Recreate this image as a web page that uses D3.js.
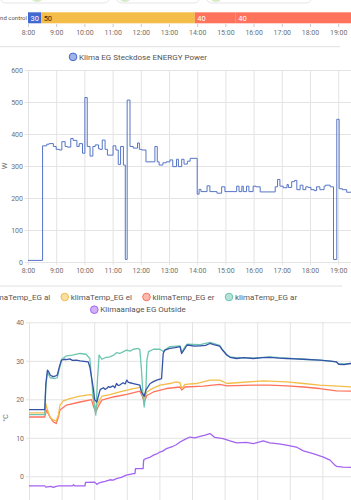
<!DOCTYPE html>
<html lang="en">
  <head>
    <script src="https://d3js.org/d3.v7.min.js"></script>
    <meta charset="UTF-8" />
    <title>Klima EG</title>
    <style>
      body { margin: 0; background: #fff; }
      svg text { font-family: Roboto, "Noto Sans", sans-serif; }
    </style>
  </head>
  <body>
    <svg width="351" height="500"></svg>
    <script>
      // ---- data ----
      var modeStarts = ["08:00", "08:28", "13:55", "15:22"];
      var modeValues = ["30", "50", "40", "40"];
      var modeColors = ["#4269d0", "#f4bd4a", "#ff725c", "#ff725c"];
      var timelineLabel = "nd control";

      var powerName = "Klima EG Steckdose ENERGY Power";
      var powerTimes = ["08:00","08:31","08:40","08:45","08:54","09:00","09:07","09:12","09:19","09:24","09:31","09:36","09:44","09:49","09:56","10:01","10:06","10:12","10:18","10:23","10:30","10:33","10:38","10:44","10:49","11:01","11:07","11:12","11:17","11:23","11:27","11:31","11:37","11:44","11:53","11:57","12:02","12:11","12:30","12:35","12:39","12:47","12:54","13:02","13:08","13:16","13:20","13:27","13:32","13:39","13:45","14:00","14:04","14:08","14:21","14:27","14:42","14:52","14:59","15:24","15:29","15:35","15:38","15:45","15:50","15:59","16:05","16:14","16:46","16:51","16:56","17:03","17:11","17:14","17:21","17:27","17:32","17:39","17:45","17:51","17:56","18:02","18:09","18:14","18:21","18:30","18:33","18:43","18:50","18:57","19:02","19:09","19:18","19:28"];
      var powerValues = [5,363,368,370,361,352,350,376,361,359,386,380,361,370,340,514,361,331,361,366,354,352,381,352,334,363,350,305,361,303,8,506,361,356,372,352,350,313,361,313,303,310,313,319,298,321,298,321,306,315,324,212,227,220,238,220,215,235,220,237,220,237,220,237,220,237,235,219,235,258,237,232,242,233,251,255,226,240,226,235,233,226,223,235,226,237,240,235,8,446,229,226,218,218];
      var powerTicks = [0, 100, 200, 300, 400, 500, 600];

      var tempTicks = [0, 10, 20, 30, 40];
      var tempNames = ["klimaTemp_EG al", "klimaTemp_EG el", "klimaTemp_EG er", "klimaTemp_EG ar", "Klimaanlage EG Outside"];
      var tempColors = ["#3553a8", "#f4bd4a", "#ff725c", "#6cc5b0", "#a463f2"];

      var tempAl = [["08:00",17.3],["08:29",17.3],["08:31",24.0],["08:34",27.6],["08:36",27.2],["08:39",26.3],["08:44",25.9],["08:48",26.0],["08:52",26.3],["08:56",28.5],["09:00",30.2],["09:05",30.4],["09:09",30.3],["09:15",30.5],["09:20",30.1],["09:27",30.2],["09:34",30.0],["09:45",29.8],["09:49",29.7],["09:52",28.4],["09:58",23.2],["10:01",19.8],["10:05",19.3],["10:08",21.0],["10:11",22.5],["10:17",23.0],["10:20",22.6],["10:23",22.8],["10:26",23.3],["10:29",23.1],["10:35",23.5],["10:38",23.0],["10:41",24.1],["10:44",23.6],["10:47",23.7],["10:53",24.3],["10:57",24.0],["11:00",25.0],["11:03",24.4],["11:06",24.3],["11:12",24.1],["11:18",23.9],["11:24",23.7],["11:27",21.9],["11:32",20.8],["11:35",22.4],["11:43",24.1],["11:49",24.6],["11:55",25.0],["12:04",25.4],["12:07",31.9],["12:10",32.8],["12:19",33.2],["12:29",33.4],["12:38",33.7],["12:41",31.9],["12:47",33.2],["12:51",34.1],["13:05",33.8],["13:15",33.9],["13:25",34.0],["13:33",34.5],["13:40",34.2],["13:51",33.8],["13:56",32.8],["14:04",31.5],["14:10",30.9],["14:22",30.6],["14:35",30.8],["14:53",30.6],["15:10",30.8],["15:23",30.9],["15:40",30.7],["15:54",30.6],["16:10",30.5],["16:25",30.4],["16:55",30.2],["17:15",29.9],["17:26",29.7],["17:30",29.1],["17:40",29.0],["17:51",29.3],["17:55",29.3]];
      var tempEl = [["08:00",16.5],["08:29",16.5],["08:31",18.9],["08:34",17.2],["08:39",15.3],["08:45",14.6],["08:50",14.4],["08:54",15.9],["08:57",18.5],["09:03",19.6],["09:15",20.2],["09:34",20.8],["09:52",21.2],["09:57",21.0],["09:59",19.3],["10:03",17.6],["10:08",19.3],["10:14",20.8],["10:29",21.2],["10:47",21.9],["11:12",22.8],["11:24",23.1],["11:28",21.9],["11:32",20.4],["11:37",21.9],["11:43",22.5],["12:01",23.7],["12:19",24.1],["12:31",24.5],["12:38",24.3],["12:41",22.8],["12:47",23.9],["13:08",24.1],["13:33",25.0],["13:51",25.0],["14:04",24.1],["14:22",24.3],["15:11",24.8],["15:54",24.5],["16:25",24.1],["16:55",23.7],["17:55",23.2]];
      var tempEr = [["08:00",15.4],["08:29",15.4],["08:32",17.2],["08:39",15.3],["08:45",14.1],["08:50",13.7],["08:54",15.3],["08:57",17.2],["09:09",18.5],["09:34",19.3],["09:55",19.9],["09:59",18.0],["10:03",16.7],["10:08",18.3],["10:14",19.8],["10:35",20.6],["11:00",21.3],["11:24",22.1],["11:28",21.0],["11:32",19.3],["11:37",21.0],["11:49",21.9],["12:13",22.8],["12:38",23.2],["12:41",22.4],["12:47",23.2],["13:21",23.4],["13:51",23.9],["14:04",23.5],["14:53",23.7],["15:23",23.7],["15:54",23.5],["16:25",23.2],["16:55",22.8],["17:26",22.2],["17:55",22.1]];
      var tempAr = [["08:00",16.0],["08:29",16.0],["08:31",23.5],["08:34",27.1],["08:39",25.6],["08:48",25.4],["08:52",25.6],["08:56",28.0],["09:00",30.4],["09:09",31.3],["09:20",31.5],["09:34",31.9],["09:45",31.7],["09:52",30.6],["09:58",20.6],["10:03",15.9],["10:06",25.0],["10:09",31.5],["10:14",30.4],["10:20",30.8],["10:29",31.0],["10:35",31.4],["10:41",32.1],["10:47",31.9],["10:53",32.3],["11:00",32.8],["11:06",32.5],["11:12",33.0],["11:21",33.2],["11:24",32.9],["11:27",27.6],["11:30",20.6],["11:32",18.0],["11:35",22.0],["11:37",30.2],["11:40",32.4],["11:49",33.0],["12:01",33.0],["12:07",32.4],["12:10",32.8],["12:19",33.7],["12:38",33.9],["12:41",32.2],["12:47",33.6],["12:51",34.3],["13:15",34.2],["13:33",34.8],["13:51",34.0],["13:56",32.9],["14:04",31.6],["14:10",31.0],["14:22",30.8],["14:53",30.7],["15:23",31.0],["15:54",30.7],["16:25",30.4],["16:55",30.2],["17:26",29.7],["17:30",29.2],["17:55",29.3]];
      var tempOut = [["08:00",-2.5],["08:29",-2.5],["08:31",-2.8],["08:40",-2.6],["08:45",-2.9],["08:50",-2.6],["08:55",-2.5],["09:20",-2.5],["09:22",-2.2],["09:24",-2.5],["09:43",-2.5],["09:44",-1.6],["10:01",-1.5],["10:05",-2.1],["10:08",-1.8],["10:14",-1.5],["10:20",-1.3],["10:29",-0.9],["10:35",-1.0],["10:41",-0.6],["10:50",-0.3],["10:59",0.3],["11:12",0.7],["11:15",0.7],["11:16",2.0],["11:30",2.0],["11:31",4.2],["11:35",4.6],["11:42",4.9],["11:49",5.5],["11:55",5.8],["12:01",6.3],["12:07",6.6],["12:13",7.2],["12:25",7.8],["12:31",8.2],["12:38",8.9],["12:47",9.6],["12:56",10.2],["13:05",10.0],["13:15",10.4],["13:24",10.7],["13:33",11.1],["13:36",10.8],["13:42",10.1],["13:57",9.8],["14:10",9.2],["14:22",8.7],["14:40",8.8],["14:53",8.5],["15:11",9.2],["15:23",8.7],["15:40",8.4],["15:54",8.1],["16:12",7.6],["16:25",6.6],["16:43",5.9],["17:02",5.0],["17:14",4.2],["17:23",2.9],["17:26",2.6],["17:38",2.4],["17:55",2.3]];
      var tempSeries = [tempAl, tempEl, tempEr, tempAr, tempOut];

      // ---- setup ----
      var svg = d3.select("svg");
      var parseT = d3.timeParse("%H:%M");
      var fmt = d3.timeFormat("%-H:%M");
      var grid = "#e3e3e3";
      var label = "#6f6f6f";

      // cut off cards at the very top
      var cards = [[0, 110, 37], [116, 200, 125], [206, 312, 216]];
      cards.forEach(function (c) {
        svg.append("rect").attr("x", c[0]).attr("y", -20).attr("width", c[1] - c[0])
          .attr("height", 23).attr("rx", 6).attr("fill", "#fff").attr("stroke", "#e6e6e6");
        svg.append("circle").attr("cx", c[2]).attr("cy", -5).attr("r", 7).attr("fill", "#d6ebc6");
      });

      // ---- timeline ----
      var x1 = d3.scaleTime().domain([parseT("08:00"), parseT("19:00")]).range([28, 338.2]);
      var endT = parseT("19:28");
      svg.append("text").attr("x", 27).attr("y", 20).attr("text-anchor", "end")
        .attr("font-size", "6px").attr("fill", "#555").text(timelineLabel);
      modeStarts.forEach(function (s, i) {
        var a = x1(parseT(s));
        var b = i < modeStarts.length - 1 ? x1(parseT(modeStarts[i + 1])) : x1(endT);
        svg.append("rect").attr("x", a).attr("y", 12.3).attr("width", b - a).attr("height", 11)
          .attr("fill", modeColors[i]);
        svg.append("text").attr("x", a + 2.5).attr("y", 20.5).attr("font-size", "7.5px")
          .attr("fill", i == 1 ? "#3a2a00" : "#fff").text(modeValues[i]);
      });
      var tAxis = svg.append("g").attr("transform", "translate(0,24)")
        .call(d3.axisBottom(x1).ticks(d3.timeHour.every(1)).tickFormat(fmt).tickSize(3).tickPadding(3));
      tAxis.select(".domain").remove();
      tAxis.selectAll("line").attr("stroke", "#ccc");
      tAxis.selectAll("text").attr("font-size", "7px").attr("fill", label).attr("font-family", "Roboto");

      svg.append("line").attr("x1", 0).attr("x2", 340).attr("y1", 46.7).attr("y2", 46.7).attr("stroke", "#e0e0e0");

      // ---- legend helper ----
      function legendRow(items, y, cx) {
        var g = svg.append("g");
        var cur = 0;
        items.forEach(function (it) {
          g.append("circle").attr("cx", cur + 4).attr("cy", y - 2.6).attr("r", 3.8)
            .attr("fill", it.color).attr("fill-opacity", 0.5).attr("stroke", it.color).attr("stroke-width", 1);
          var t = g.append("text").attr("x", cur + 10).attr("y", y).attr("font-size", "8px")
            .attr("fill", "#555").text(it.name);
          cur += 10 + t.node().getComputedTextLength() + 10.5;
        });
        cur -= 10.5;
        g.attr("transform", "translate(" + (cx - cur / 2) + ",0)");
      }

      // ---- power chart ----
      var x2 = d3.scaleTime().domain([parseT("08:00"), parseT("19:00")]).range([28, 338.2]);
      var y2 = d3.scaleLinear().domain([0, 600]).range([262, 70]);
      legendRow([{ name: powerName, color: "#4269d0" }], 59.5, 138);

      var gx2 = svg.append("g").attr("transform", "translate(0,262)")
        .call(d3.axisBottom(x2).ticks(d3.timeHour.every(1)).tickFormat(fmt).tickSize(-192).tickPadding(6));
      gx2.select(".domain").remove();
      gx2.selectAll("line").attr("stroke", grid).attr("y2", -192).attr("y1", 3);
      gx2.selectAll("text").attr("font-size", "7px").attr("fill", label);

      var gy2 = svg.append("g").attr("transform", "translate(28,0)")
        .call(d3.axisLeft(y2).tickValues(powerTicks).tickSize(-323).tickPadding(5));
      gy2.select(".domain").remove();
      gy2.selectAll("line").attr("stroke", grid).attr("x1", -3);
      gy2.selectAll("text").attr("font-size", "7px").attr("fill", label);

      svg.append("text").attr("transform", "translate(7,166) rotate(-90)").attr("text-anchor", "middle")
        .attr("font-size", "7.5px").attr("fill", label).text("W");

      var powerData = powerTimes.map(function (t, i) { return [parseT(t), powerValues[i]]; });
      svg.append("path").datum(powerData)
        .attr("fill", "none").attr("stroke", "#5575c6").attr("stroke-width", 1)
        .attr("d", d3.line().curve(d3.curveStepAfter)
          .x(function (d) { return x2(d[0]); }).y(function (d) { return y2(d[1]); }));

      svg.append("line").attr("x1", 0).attr("x2", 342).attr("y1", 286).attr("y2", 286).attr("stroke", "#e0e0e0");

      // ---- temperature chart (its time labels sit below the visible area) ----
      var x3 = d3.scaleTime().domain([parseT("08:00"), parseT("18:00")]).range([29, 355]);
      var y3 = d3.scaleLinear().domain([-10, 40]).range([514.8, 322.3]);
      legendRow(tempNames.slice(0, 4).map(function (n, i) { return { name: n, color: tempColors[i] }; }), 299.6, 138);
      legendRow([{ name: tempNames[4], color: tempColors[4] }], 312.3, 138);

      var gx3 = svg.append("g").attr("transform", "translate(0,514.8)")
        .call(d3.axisBottom(x3).ticks(d3.timeHour.every(1)).tickFormat("").tickSize(3));
      gx3.select(".domain").remove();
      gx3.selectAll("text").remove();
      gx3.selectAll("line").attr("stroke", grid).attr("y1", -192.5).attr("y2", 3);

      var gy3 = svg.append("g").attr("transform", "translate(29,0)")
        .call(d3.axisLeft(y3).tickValues(tempTicks).tickSize(-322).tickPadding(5));
      gy3.select(".domain").remove();
      gy3.selectAll("line").attr("stroke", grid).attr("x1", -3);
      gy3.selectAll("text").attr("font-size", "7px").attr("fill", label);

      svg.append("text").attr("transform", "translate(8,418) rotate(-90)").attr("text-anchor", "middle")
        .attr("font-size", "7.5px").attr("fill", label).text("°C");

      var line3 = d3.line().x(function (d) { return x3(parseT(d[0])); }).y(function (d) { return y3(d[1]); });
      [4, 2, 1, 3, 0].forEach(function (i) {
        svg.append("path").datum(tempSeries[i])
          .attr("fill", "none").attr("stroke", tempColors[i]).attr("stroke-width", 1.3)
          .attr("stroke-linejoin", "round").attr("d", line3);
      });
    </script>
  </body>
</html>
